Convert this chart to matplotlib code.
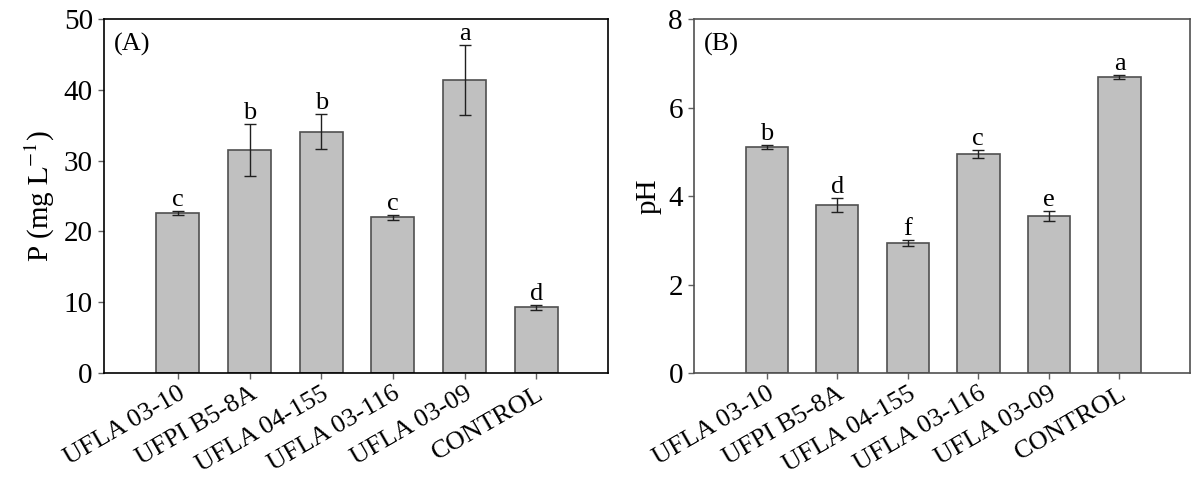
import numpy as np
import matplotlib.pyplot as plt

plt.rcParams['font.family'] = ['Liberation Serif', 'DejaVu Serif']
plt.rcParams['mathtext.fontset'] = 'stix'

strains = ["UFLA 03-10", "UFPI B5-8A", "UFLA 04-155", "UFLA 03-116", "UFLA 03-09", "CONTROL"]

# soluble P (mg/L) with standard errors and Tukey letters
p_mean = [22.6, 31.5, 34.1, 22.0, 41.4, 9.3]
p_err = [0.25, 3.7, 2.5, 0.35, 4.9, 0.35]
p_letters = ["c", "b", "b", "c", "a", "d"]

# final pH of the medium
ph_mean = [5.11, 3.80, 2.94, 4.94, 3.55, 6.69]
ph_err = [0.04, 0.15, 0.06, 0.09, 0.11, 0.04]
ph_letters = ["b", "d", "f", "c", "e", "a"]


def bar_panel(ax, means, errs, letters, ymax, step, ylabel, tag, spine_col):
    x = np.arange(len(strains))
    ax.bar(x, means, width=0.6, color="#c0c0c0", edgecolor="#505050", linewidth=1.2, zorder=2)
    ax.errorbar(x, means, yerr=errs, fmt="none", ecolor="#202020", elinewidth=1.0,
                capsize=4.5, capthick=1.0, zorder=3)
    for xi, m, e, lab in zip(x, means, errs, letters):
        ax.annotate(lab, (xi, m + e), xytext=(0, 0), textcoords="offset points",
                    ha="center", va="bottom", fontsize=19)
    ax.set_xlim(-1.03, 6.0)
    ax.set_ylim(0, ymax)
    ax.set_yticks(np.arange(0, ymax + step / 2, step))
    ax.set_xticks(x)
    ax.set_xticklabels(strains, rotation=30, ha="right", rotation_mode="anchor", fontsize=19)
    ax.tick_params(axis="both", direction="out", length=4, width=1, color="#606060",
                   top=False, right=False)
    ax.tick_params(axis="y", labelsize=21, pad=4)
    ax.tick_params(axis="x", pad=3)
    for s in ax.spines.values():
        s.set_color(spine_col)
        s.set_linewidth(1.2)
    ax.set_ylabel(ylabel, fontsize=21, labelpad=5)
    ax.text(0.02, 0.96, tag, transform=ax.transAxes, ha="left", va="top", fontsize=19)


fig = plt.figure(figsize=(11.91, 4.84), dpi=100)
ax1 = fig.add_axes([0.0873, 0.2293, 0.4232, 0.7314])
ax2 = fig.add_axes([0.5827, 0.2293, 0.4165, 0.7314])

bar_panel(ax1, p_mean, p_err, p_letters, 50, 10, r"P (mg $\mathrm{L^{-1}}$)", "(A)", "black")
bar_panel(ax2, ph_mean, ph_err, ph_letters, 8, 2, "pH", "(B)", "#505050")

fig.savefig("out.png", dpi=100)
